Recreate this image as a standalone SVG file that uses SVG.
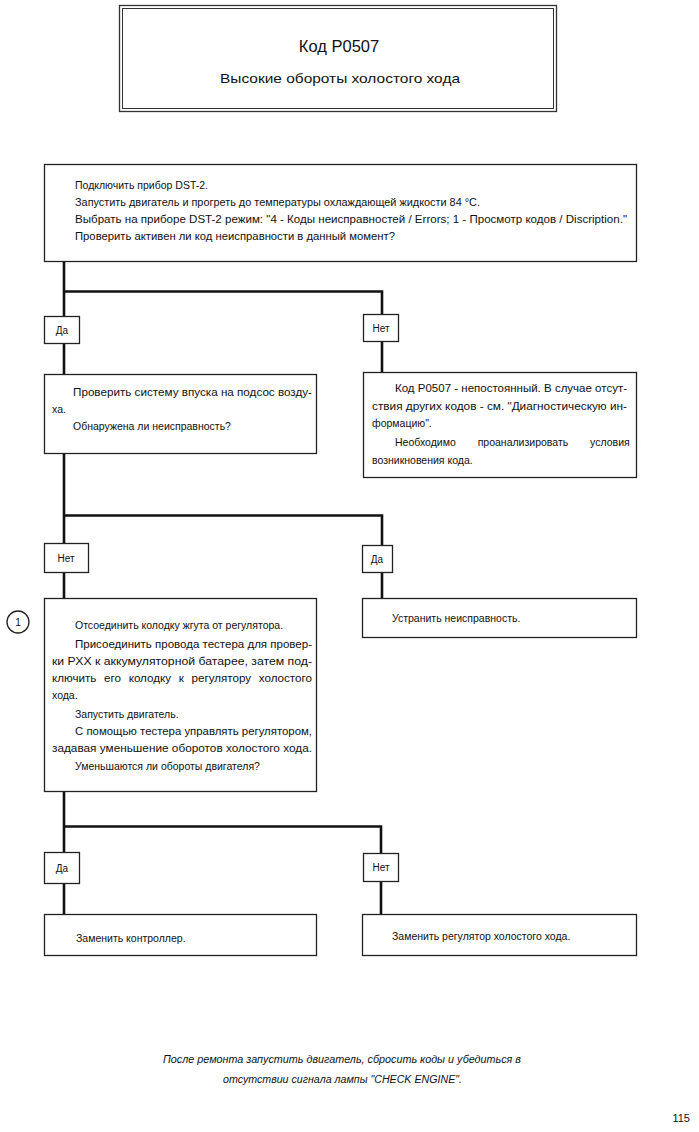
<svg xmlns="http://www.w3.org/2000/svg" width="699" height="1132" viewBox="0 0 699 1132">
<style>
.box{fill:#fff;stroke:#222;stroke-width:1.3}
.lbl{fill:#fff;stroke:#222;stroke-width:1.3}
.conn{fill:none;stroke:#111;stroke-width:2.6}
text{font-family:"Liberation Sans","DejaVu Sans",sans-serif;fill:#111}
.t{font-size:10.5px}
.s{font-size:10px}
</style>
<rect width="699" height="1132" fill="#fff"/>
<g id="title">
<rect x="119.5" y="5.5" width="437" height="106" fill="none" stroke="#333" stroke-width="1.3"/>
<rect x="122.5" y="8.5" width="431" height="100" fill="none" stroke="#333" stroke-width="1"/>
<text x="339" y="52" font-size="16.5" text-anchor="middle">Код P0507</text>
<text x="340" y="83" font-size="13" text-anchor="middle" textLength="240" lengthAdjust="spacingAndGlyphs">Высокие обороты холостого хода</text>
</g>
<g id="connectors">
<path class="conn" d="M64 262V316M64 291.5H382V314M64 343V374M382 341V372"/>
<path class="conn" d="M64 453V543M64 515.5H382V545M64 572V598M382 572V598"/>
<path class="conn" d="M64 792V852M64 826.5H381V853M64 884V914M381 882V914"/>
</g>
<g id="n1">
<rect class="box" x="44.5" y="164.5" width="592" height="97"/>
<text class="t" x="75" y="189">Подключить прибор DST-2.</text>
<text class="t" x="75" y="206" textLength="405" lengthAdjust="spacingAndGlyphs">Запустить двигатель и прогреть до температуры охлаждающей жидкости 84 °C.</text>
<text class="t" x="75" y="223" textLength="552" lengthAdjust="spacingAndGlyphs">Выбрать на приборе DST-2 режим: "4 - Коды неисправностей / Errors; 1 - Просмотр кодов / Discription."</text>
<text class="t" x="75" y="240" textLength="320" lengthAdjust="spacingAndGlyphs">Проверить активен ли код неисправности в данный момент?</text>
</g>
<g id="yes1"><rect class="lbl" x="44.5" y="316.5" width="35" height="27"/><text class="s" x="62" y="333.5" text-anchor="middle">Да</text></g>
<g id="no1"><rect class="lbl" x="363.5" y="314.5" width="35" height="27"/><text class="s" x="381" y="331.5" text-anchor="middle">Нет</text></g>
<g id="n2">
<rect class="box" x="44.5" y="374.5" width="272" height="79"/>
<text class="t" x="73" y="396" textLength="239" lengthAdjust="spacingAndGlyphs">Проверить систему впуска на подсос возду-</text>
<text class="t" x="52" y="413">ха.</text>
<text class="t" x="73" y="430">Обнаружена ли неисправность?</text>
</g>
<g id="n3">
<rect class="box" x="363.5" y="372.5" width="273" height="105"/>
<text class="t" x="395" y="392" textLength="232" lengthAdjust="spacingAndGlyphs">Код P0507 - непостоянный. В случае отсут-</text>
<text class="t" x="372" y="410" textLength="255" lengthAdjust="spacingAndGlyphs">ствия других кодов - см. "Диагностическую ин-</text>
<text class="t" x="372" y="427">формацию".</text>
<text class="t" x="395" y="446" word-spacing="19">Необходимо проанализировать условия</text>
<text class="t" x="372" y="464">возникновения кода.</text>
</g>
<g id="no2"><rect class="lbl" x="44.5" y="543.5" width="44" height="29"/><text class="s" x="66" y="561.5" text-anchor="middle">Нет</text></g>
<g id="yes2"><rect class="lbl" x="362.5" y="545.5" width="30" height="27"/><text class="s" x="377" y="562.5" text-anchor="middle">Да</text></g>
<g id="marker1">
<circle cx="18" cy="622" r="11" fill="#fff" stroke="#222" stroke-width="1.3"/>
<text x="18" y="626" font-size="10" text-anchor="middle">1</text>
</g>
<g id="n4">
<rect class="box" x="44.5" y="598.5" width="272" height="193"/>
<text class="t" x="75" y="629">Отсоединить колодку жгута от регулятора.</text>
<text class="t" x="75" y="648" textLength="237" lengthAdjust="spacingAndGlyphs">Присоединить провода тестера для провер-</text>
<text class="t" x="52" y="665" textLength="260" lengthAdjust="spacingAndGlyphs">ки РХХ к аккумуляторной батарее, затем под-</text>
<text class="t" x="52" y="682" textLength="260" lengthAdjust="spacingAndGlyphs" word-spacing="4">ключить его колодку к регулятору холостого</text>
<text class="t" x="52" y="699">хода.</text>
<text class="t" x="75" y="718">Запустить двигатель.</text>
<text class="t" x="75" y="735" textLength="237" lengthAdjust="spacingAndGlyphs">С помощью тестера управлять регулятором,</text>
<text class="t" x="52" y="752" textLength="260" lengthAdjust="spacingAndGlyphs">задавая уменьшение оборотов холостого хода.</text>
<text class="t" x="75" y="770">Уменьшаются ли обороты двигателя?</text>
</g>
<g id="n5">
<rect class="box" x="362.5" y="598.5" width="274" height="39"/>
<text class="t" x="392" y="622">Устранить неисправность.</text>
</g>
<g id="yes3"><rect class="lbl" x="44.5" y="852.5" width="35" height="31"/><text class="s" x="62" y="871.5" text-anchor="middle">Да</text></g>
<g id="no3"><rect class="lbl" x="363.5" y="853.5" width="35" height="28"/><text class="s" x="381" y="871" text-anchor="middle">Нет</text></g>
<g id="n6">
<rect class="box" x="44.5" y="914.5" width="272" height="41"/>
<text class="t" x="76" y="942">Заменить контроллер.</text>
</g>
<g id="n7">
<rect class="box" x="362.5" y="914.5" width="274" height="41"/>
<text class="t" x="392" y="940">Заменить регулятор холостого хода.</text>
</g>
<g id="footer">
<text x="163" y="1063" font-size="10" font-style="italic" textLength="358" lengthAdjust="spacingAndGlyphs">После ремонта запустить двигатель, сбросить коды и убедиться в</text>
<text x="223" y="1083" font-size="10" font-style="italic" textLength="239" lengthAdjust="spacingAndGlyphs">отсутствии сигнала лампы "CHECK ENGINE".</text>
<text x="690" y="1122" font-size="11" text-anchor="end">115</text>
</g>
</svg>
